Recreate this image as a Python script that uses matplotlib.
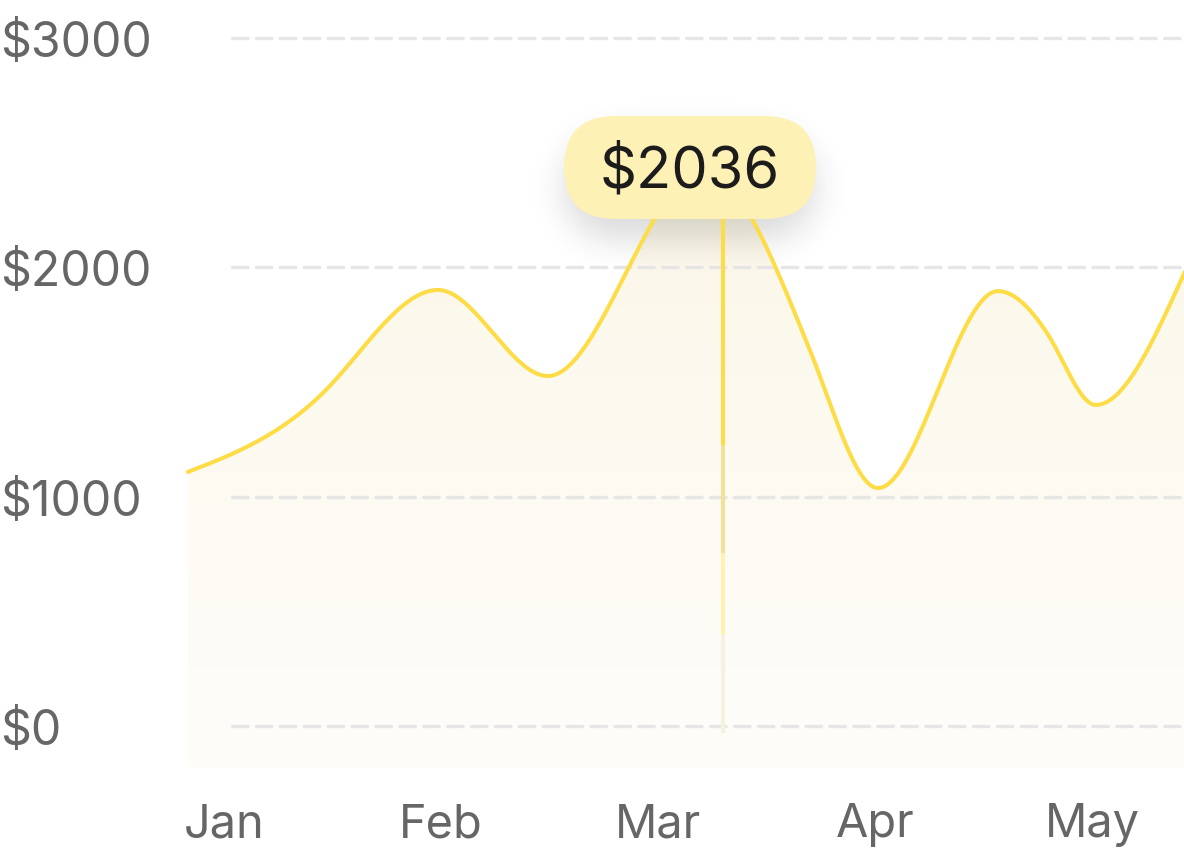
import numpy as np
import matplotlib
matplotlib.use("Agg")
import matplotlib.pyplot as plt
from matplotlib.patches import FancyBboxPatch, Polygon
from matplotlib import transforms

# ---------------- data ----------------
months = ["Jan", "Feb", "Mar", "Apr", "May"]
month_pos = [0, 1, 2, 3, 4]
y_ticks = [0, 1000, 2000, 3000]
y_tick_labels = ["$0", "$1000", "$2000", "$3000"]

# series points: position in months (Jan = 0) and value in $
pt_month = [-0.166, 0.456, 0.986, 1.493, 2.21, 2.70, 3.014, 3.567, 3.793, 4.018, 4.80, 5.00]
pt_value = [1107, 1451, 1900, 1525, 2420, 1638, 1037, 1895, 1712, 1399, 2480, 2400]

cursor_month = 2.30
cursor_label = "$2036"

# ---------------- style ----------------
W, H = 1184, 864
LINE = "#FDDC46"
GRID = "#E6E6E6"
LABEL = "#666666"
FONT = ["Inter", "DejaVu Sans"]


def smooth_curve(x, y, per=80, k=1.3):
    """Cubic Hermite curve: flat tangents at local extrema, smooth elsewhere."""
    x = np.asarray(x, float)
    y = np.asarray(y, float)
    n = len(x)
    h = np.diff(x)
    s = np.diff(y) / h
    m = np.zeros(n)
    for i in range(1, n - 1):
        if np.sign(s[i - 1]) != np.sign(s[i]) or s[i - 1] == 0 or s[i] == 0:
            m[i] = 0.0
            continue
        p = (s[i - 1] * h[i] + s[i] * h[i - 1]) / (h[i - 1] + h[i])
        m[i] = np.sign(p) * min(k * abs(p), 3 * min(abs(s[i - 1]), abs(s[i])))
    m[0] = (3 * s[0] - m[1]) / 2
    m[-1] = (3 * s[-1] - m[-2]) / 2
    xs, ys = [], []
    for i in range(n - 1):
        t = np.linspace(0, 1, per, endpoint=(i == n - 2))
        h00 = 2 * t**3 - 3 * t**2 + 1
        h10 = t**3 - 2 * t**2 + t
        h01 = -2 * t**3 + 3 * t**2
        h11 = t**3 - t**2
        xs.append(x[i] + t * h[i])
        ys.append(h00 * y[i] + h10 * h[i] * m[i] + h01 * y[i + 1] + h11 * h[i] * m[i + 1])
    return np.concatenate(xs), np.concatenate(ys)


fig = plt.figure(figsize=(W / 100, H / 100), dpi=100)
fig.patch.set_facecolor("white")
ax = fig.add_axes([0, 0, 1, 1])
XLIM = (-1.032, 4.424)
YLIM = (-601.3, 3163.4)
ax.set_xlim(*XLIM)
ax.set_ylim(*YLIM)
ax.axis("off")

# pixel transform (origin top-left)
pix = transforms.Affine2D().scale(1, -1).translate(0, H)


def to_data(px, py):
    return ax.transData.inverted().transform(pix.transform([px, py]))


def to_pix(dx, dy):
    d = ax.transData.transform([dx, dy])
    return d[0], H - d[1]


xs, ys = smooth_curve(pt_month, pt_value)

# ---------- gradient fill under curve ----------
base = to_data(0, 768)[1]
top_val = 2400
verts = np.vstack([np.column_stack([xs, ys]),
                   [[xs[-1], base], [xs[0], base]]])
clip = Polygon(verts, closed=True, facecolor="none", edgecolor="none",
               transform=ax.transData)
ax.add_patch(clip)
ngrad = 256
tcol = np.array([251, 247, 232]) / 255
bcol = np.array([254, 253, 250]) / 255
f = np.linspace(0, 1, ngrad)[:, None]
grad = (bcol * (1 - f) + tcol * f)[:, None, :]
im = ax.imshow(grad, extent=[xs[0], xs[-1], base, top_val], origin="lower",
               aspect="auto", interpolation="bilinear", zorder=1)
im.set_clip_path(clip)

# ---------- grid ----------
gx0 = to_data(232, 0)[0]
for v in y_ticks:
    ax.plot([gx0, XLIM[1]], [v, v], color=GRID, lw=2.4,
            linestyle=(0, (4.67, 2.5)), dash_capstyle="round", zorder=2)

# ---------- tooltip shadow ----------
cx_pix, _ = to_pix(cursor_month, 0)
pill_w, pill_h = 252, 103
pill_cx = cx_pix - 33
pill_x0 = pill_cx - pill_w / 2
pill_y0 = 116
r = pill_h / 2

sx0, sx1, sy0, sy1 = int(pill_x0 - 90), int(pill_x0 + pill_w + 90), 60, 360
yy, xx = np.mgrid[sy0:sy1, sx0:sx1] + 0.5
dy = 20
ccy = pill_y0 + r + dy
qx = np.clip(xx, pill_x0 + r, pill_x0 + pill_w - r)
dist = np.hypot(xx - qx, yy - ccy)
mask = (dist <= r).astype(float)
sig = 17
kx = np.arange(-3 * sig, 3 * sig + 1)
ker = np.exp(-kx**2 / (2 * sig**2))
ker /= ker.sum()
blur = np.apply_along_axis(lambda v: np.convolve(v, ker, mode="same"), 1, mask)
blur = np.apply_along_axis(lambda v: np.convolve(v, ker, mode="same"), 0, blur)
shadow = np.zeros((sy1 - sy0, sx1 - sx0, 4))
shadow[..., 0:3] = 0.15
shadow[..., 3] = blur * 0.17
(dx0, dy0) = to_data(sx0, sy1)
(dx1, dy1) = to_data(sx1, sy0)
ax.imshow(shadow, extent=[dx0, dx1, dy0, dy1], origin="upper", aspect="auto",
          interpolation="bilinear", zorder=3)

# ---------- cursor line (fading) ----------
y_top_pix = pill_y0 + pill_h
y_bot_pix = 733
stops = [0.0, 0.44, 0.65, 0.81, 1.0]
cols = ["#FDDC46", "#F2E299", "#FEF2B3", "#F6F1E1"]
for i in range(4):
    ya = to_data(0, y_top_pix + stops[i] * (y_bot_pix - y_top_pix))[1]
    yb = to_data(0, y_top_pix + stops[i + 1] * (y_bot_pix - y_top_pix))[1]
    ax.plot([cursor_month, cursor_month], [ya, yb], color=cols[i], lw=2.9,
            solid_capstyle="butt", zorder=4)

# ---------- series line ----------
ax.plot(xs, ys, color=LINE, lw=2.9, solid_capstyle="round",
        solid_joinstyle="round", zorder=5)

# ---------- tooltip pill ----------
pill = FancyBboxPatch((pill_x0, pill_y0), pill_w, pill_h,
                      boxstyle=f"round,pad=0,rounding_size={r}",
                      facecolor="#FEF1B5", edgecolor="none", transform=pix, zorder=6)
ax.add_patch(pill)
ax.text(pill_cx, pill_y0 + 72, cursor_label, transform=pix, ha="center",
        va="baseline", fontsize=41.6, family=FONT, color="#1C1C1C", zorder=7)

# ---------- axis labels ----------
for v, lab in zip(y_ticks, y_tick_labels):
    _, py = to_pix(0, v)
    ax.text(0, py + 19, lab, transform=pix, ha="left", va="baseline",
            fontsize=34.7, family=FONT, color=LABEL)

for m, lab in zip(month_pos, months):
    px, _ = to_pix(m, 0)
    ax.text(px, 837, lab, transform=pix, ha="center", va="baseline",
            fontsize=33.8, family=FONT, color=LABEL)

ax.set_xlim(*XLIM)
ax.set_ylim(*YLIM)
fig.savefig("out.png", dpi=100, facecolor="white")
